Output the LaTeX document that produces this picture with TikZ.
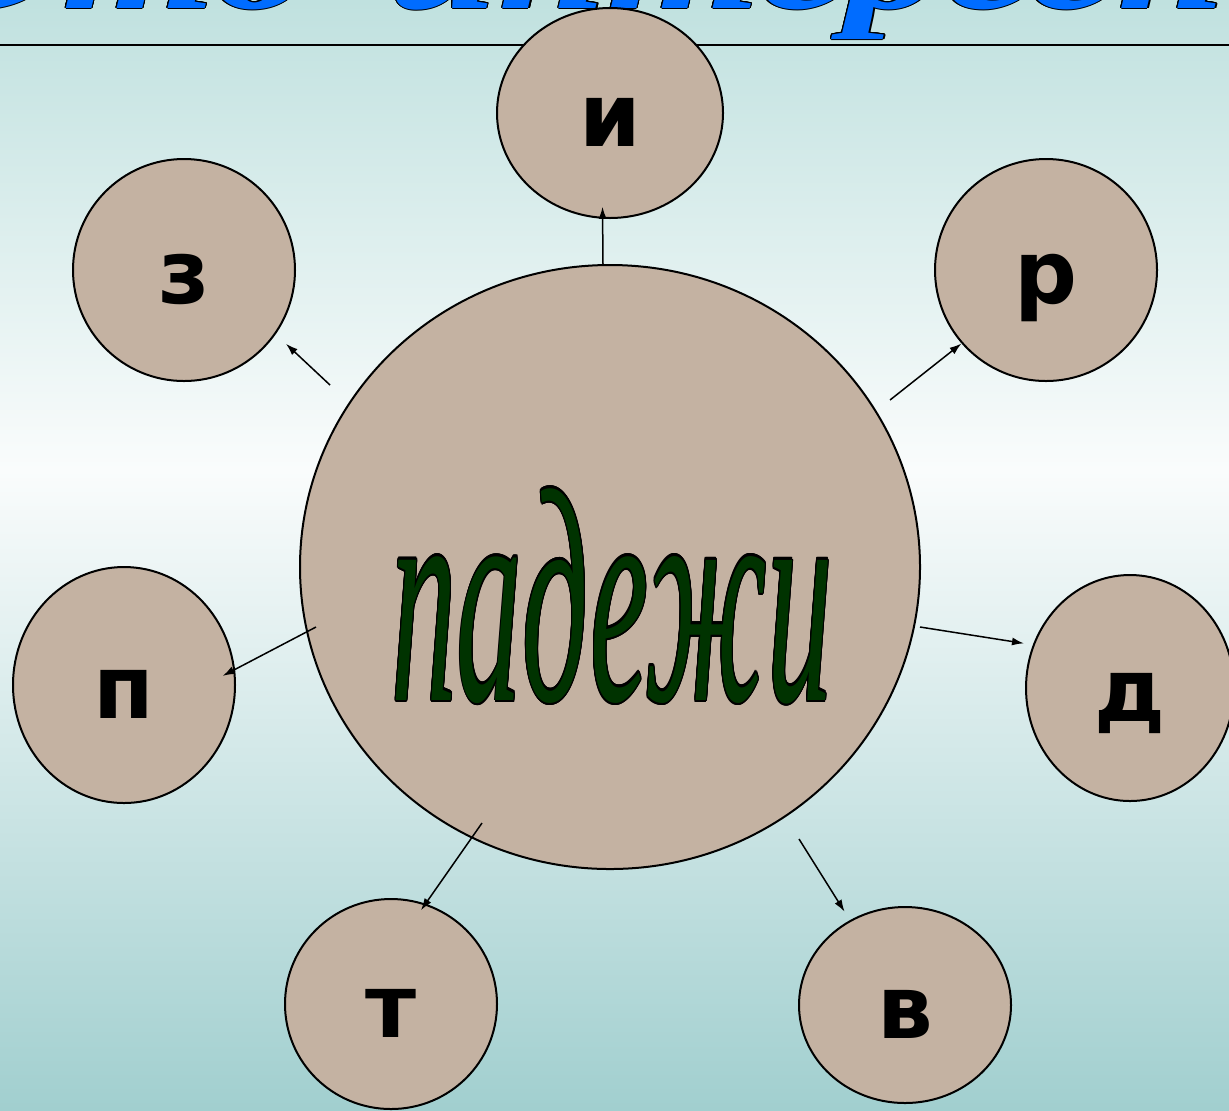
\documentclass[tikz,border=0pt]{standalone}
\usepackage{fontspec}
\usepackage{tikz}
\usepackage{xcolor}
\usepackage{contour}
\usetikzlibrary{shapes.geometric,arrows.meta}

\newfontfamily\lettrefont{DejaVu Sans}
\newfontfamily\titrefont{Liberation Serif}

\definecolor{fondhaut}{RGB}{192,225,223}
\definecolor{fondmilieu}{RGB}{250,252,252}
\definecolor{fondbas}{RGB}{161,207,207}
\definecolor{beige}{RGB}{196,178,162}
\definecolor{vertfonce}{RGB}{0,51,0}
\definecolor{bleutitre}{RGB}{0,108,255}
\contourlength{0.5pt}

\tikzset{
  cas/.style={ellipse, draw, line width=1pt, fill=beige, inner sep=0pt,
    font=\lettrefont\bfseries\fontsize{44pt}{44pt}\selectfont,
    text height=33pt, text depth=0pt},
  fleche/.style={-{Latex[length=6pt,width=4pt]}, line width=0.75pt}
}

\begin{document}
\begin{tikzpicture}[x=0.5pt,y=-0.5pt]
  \useasboundingbox (0,0) rectangle (1229,1110);
  \clip (0,0) rectangle (1229,1110);

  % fond en dégradé
  \shade[top color=fondhaut, bottom color=fondmilieu] (0,0) rectangle (1229,470);
  \shade[top color=fondmilieu, bottom color=fondbas] (0,470) rectangle (1229,1110);

  % titre coupé en haut
  \node[anchor=base east, inner sep=0pt, text=bleutitre] (titreA) at (312,8)
    {\scalebox{1.35}[1]{\titrefont\bfseries\itshape\fontsize{73pt}{73pt}\selectfont\contour{black}{Это}}};
  \node[anchor=base west, inner sep=0pt, text=bleutitre] (titreB) at (388,8)
    {\scalebox{1.35}[1]{\titrefont\bfseries\itshape\fontsize{73pt}{73pt}\selectfont\contour{black}{интересно}}};
  \draw[line width=1.3pt] (0,45) -- (1229,45);

  \node[cas, minimum width=310pt, minimum height=302pt] (padezhi) at (610,567) {};
  \node[anchor=base, inner sep=0pt, text=vertfonce] (mot) at (612,700)
    {\scalebox{1}[2.33]{\titrefont\itshape\fontsize{65.5pt}{65.5pt}\selectfont\contour{black}{падежи}}};

  \node[cas, minimum width=113pt, minimum height=105pt] (im) at (610,113) {и};
  \node[cas, minimum width=111pt, minimum height=111pt] (rod) at (1046,270) {р};
  \node[cas, minimum width=104pt, minimum height=113pt] (dat) at (1130,688) {д};
  \node[cas, minimum width=106pt, minimum height=98pt] (vin) at (905,1005) {в};
  \node[cas, minimum width=106pt, minimum height=105pt] (tvor) at (391,1004) {т};
  \node[cas, minimum width=111pt, minimum height=118pt] (pred) at (124,685) {п};
  \node[cas, minimum width=111pt, minimum height=111pt] (zv) at (184,270) {з};

  \coordinate (d-im) at (603,265);
  \coordinate (d-rod) at (890,400);
  \coordinate (d-dat) at (920,627);
  \coordinate (d-vin) at (799,839);
  \coordinate (d-tvor) at (482,823);
  \coordinate (d-pred) at (316,627);
  \coordinate (d-zv) at (330,385);

  \draw[fleche, shorten >=-6pt] (d-im) -- (im.-94);
  \draw[fleche] (d-rod) -- (rod.-139);
  \draw[fleche, shorten >=4.5pt] (d-dat) -- (dat.156);
  \draw[fleche, shorten >=5pt] (d-vin) -- (vin.123.5);
  \draw[fleche, shorten >=-4pt] (d-tvor) -- (tvor.71);
  \draw[fleche, shorten >=-7pt] (d-pred) -- (pred.8);
  \draw[fleche, shorten >=7pt] (d-zv) -- (zv.-35);
\end{tikzpicture}
\end{document}
